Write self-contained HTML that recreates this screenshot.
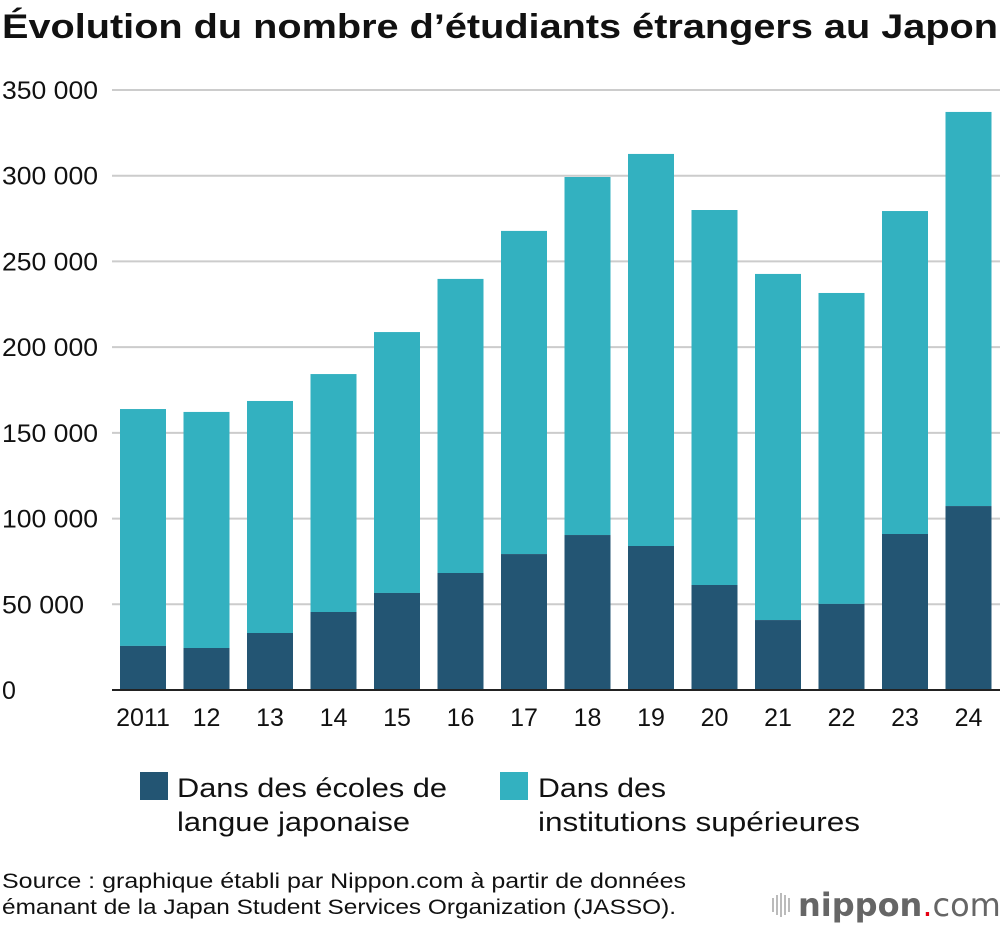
<!DOCTYPE html>
<html><head><meta charset="utf-8"><style>
body{margin:0;background:#fff;font-family:"Liberation Sans",sans-serif;}
svg text{font-family:"Liberation Sans",sans-serif;}
</style></head><body>
<svg id="c" width="1000" height="928">
<text x="2" y="38" font-size="34" font-weight="bold" fill="#111" textLength="996" lengthAdjust="spacingAndGlyphs">Évolution du nombre d’étudiants étrangers au Japon</text>
<g id="grid"></g><g id="bars"></g><g id="xl"></g>
<g>
<rect x="140" y="772" width="28" height="28" fill="#235573"/>
<text font-size="27" fill="#111"><tspan x="177" y="797" textLength="270" lengthAdjust="spacingAndGlyphs">Dans des écoles de</tspan><tspan x="177" y="831" textLength="233" lengthAdjust="spacingAndGlyphs">langue japonaise</tspan></text>
<rect x="500" y="772" width="28" height="28" fill="#33b1c0"/>
<text font-size="27" fill="#111"><tspan x="538" y="797" textLength="128" lengthAdjust="spacingAndGlyphs">Dans des</tspan><tspan x="538" y="831" textLength="322" lengthAdjust="spacingAndGlyphs">institutions supérieures</tspan></text>
</g>
<text font-size="21" fill="#111"><tspan x="2" y="888" textLength="684" lengthAdjust="spacingAndGlyphs">Source : graphique établi par Nippon.com à partir de données</tspan><tspan x="2" y="914" textLength="674" lengthAdjust="spacingAndGlyphs">émanant de la Japan Student Services Organization (JASSO).</tspan></text>
<g>
<g fill="#bbb"><rect x="772" y="898" width="2" height="14"/><rect x="776" y="895" width="2" height="20"/><rect x="780" y="893" width="2" height="24"/><rect x="784" y="895" width="2" height="20"/><rect x="788" y="898" width="2" height="14"/></g>
<text x="798" y="916" font-size="32" fill="#666" style="font-family:'DejaVu Sans',sans-serif" font-weight="bold">nippon<tspan fill="#e60012" font-weight="normal">.</tspan><tspan font-weight="normal">com</tspan></text>
</g>
</svg>
<script>
const categories=["2011","12","13","14","15","16","17","18","19","20","21","22","23","24"];
const languageSchools=[25700,24500,33250,45500,56600,68250,79300,90400,84000,61250,40800,50200,91000,107300];
const higherTotal=[163900,162200,168600,184300,208800,239800,267800,299250,312700,280000,242700,231600,279400,337200];
const yTicks=[0,50000,100000,150000,200000,250000,300000,350000];
const ns="http://www.w3.org/2000/svg";
const y=v=>690-v/350000*600;
const x=i=>143+i*63.5;
function mk(t,a,p){const e=document.createElementNS(ns,t);for(const k in a)e.setAttribute(k,a[k]);p.appendChild(e);return e;}
const g=document.getElementById('grid');
yTicks.forEach(v=>{
 const l=mk('line',{x1:112,x2:1000,y1:y(v),y2:y(v),stroke:v?'#ccc':'#222','stroke-width':2},g);
 
 
 const t=mk('text',{x:2,y:y(v)+9,'font-size':25,fill:'#111'},g);
 if(v){t.setAttribute('textLength',v>=100000?96:82);t.setAttribute('lengthAdjust','spacingAndGlyphs');}
 t.textContent=v?String(v/1000)+' 000':'0';
 
 
});
const b=document.getElementById('bars'),xl=document.getElementById('xl');
categories.forEach((c,i)=>{
 const r1=mk('rect',{x:x(i)-23,width:46,y:y(higherTotal[i]),height:y(languageSchools[i])-y(higherTotal[i]),fill:'#33b1c0'},b);
 
 
 const r2=mk('rect',{x:x(i)-23,width:46,y:y(languageSchools[i]),height:690-y(languageSchools[i]),fill:'#235573'},b);
 
 
 const t=mk('text',{x:x(i),y:726,'font-size':25,fill:'#111','text-anchor':'middle'},xl);
 t.textContent=c;
 
 
});
mk('line',{x1:112,x2:1000,y1:690,y2:690,stroke:'#222','stroke-width':2},b);
</script>
</body></html>
